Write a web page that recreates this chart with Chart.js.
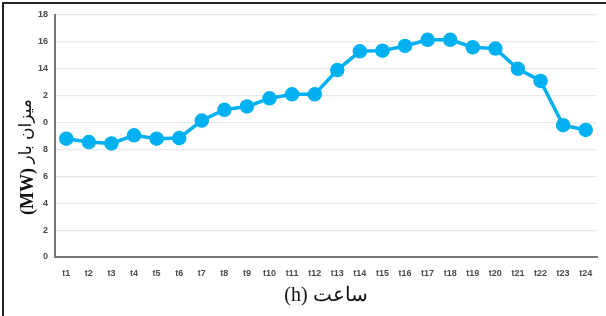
<!DOCTYPE html>
<html>
<head>
<meta charset="utf-8">
<script src="https://cdn.jsdelivr.net/npm/chart.js@4/dist/chart.umd.min.js"></script>
<style>
  html, body { margin: 0; padding: 0; background: #fff; overflow: hidden; }
  #wrap { position: relative; width: 606px; height: 316px; overflow: hidden; }
  .khat { position: absolute; background: #222; pointer-events: none; }
  canvas { position: absolute; left: 0; top: 0; }
</style>
</head>
<body>
<div id="wrap">
  <canvas id="c" width="606" height="316"></canvas>
  <div class="khat" style="left:2px; top:2px; width:604px; height:2px;"></div>
  <div class="khat" style="left:2px; top:2px; width:2px; height:314px;"></div>
</div>
<script>
// ساعت ها
const saatha = ["t1", "t2", "t3", "t4", "t5", "t6", "t7", "t8", "t9", "t10", "t11", "t12",
  "t13", "t14", "t15", "t16", "t17", "t18", "t19", "t20", "t21", "t22", "t23", "t24"];

// میزان بار (MW)
const mizanBar = [8.8, 8.55, 8.45, 9.05, 8.8, 8.85, 10.15, 10.95, 11.2, 11.8, 12.1, 12.1,
  13.9, 15.3, 15.35, 15.7, 16.15, 16.15, 15.6, 15.5, 14.0, 13.1, 9.8, 9.45];

// برچسب های محور y همانطور که در تصویر دیده می شوند
const yTickValues = [0, 2, 4, 6, 8, 10, 12, 14, 16, 18];
const yTickLabels = ["0", "2", "4", "6", "8", "0", "2", "14", "16", "18"];

const abi = "#00b0f0";
const tickFont = { family: "Liberation Sans", size: 9, weight: "bold" };

// عنوان محور y به صورت دستی: (MW) پررنگ و متن فارسی معمولی
const yTitlePlugin = {
  id: "yTitle",
  afterDraw(chart) {
    const ctx = chart.ctx;
    const vahed = "(MW)";
    const matn = "میزان بار";
    ctx.save();
    ctx.translate(27, 157);
    ctx.rotate(-Math.PI / 2);
    ctx.fillStyle = "#111";
    ctx.textBaseline = "middle";
    ctx.textAlign = "left";
    ctx.font = "bold 18px 'Liberation Serif'";
    const w1 = ctx.measureText(vahed + " ").width;
    ctx.font = "17px 'DejaVu Serif', 'DejaVu Sans'";
    const w2 = ctx.measureText(matn).width;
    const x0 = -(w1 + w2) / 2;
    ctx.font = "bold 18px 'Liberation Serif'";
    ctx.fillText(vahed, x0, 1);
    ctx.font = "17px 'DejaVu Serif', 'DejaVu Sans'";
    ctx.fillText(matn, x0 + w1, 0);
    ctx.restore();
  }
};

new Chart(document.getElementById("c"), {
  type: "line",
  data: {
    labels: saatha,
    datasets: [{
      data: mizanBar,
      borderColor: abi,
      backgroundColor: abi,
      borderWidth: 3.5,
      pointRadius: 5.5,
      pointBackgroundColor: abi,
      pointBorderColor: abi,
      tension: 0
    }]
  },
  options: {
    responsive: false,
    animation: false,
    layout: { padding: { top: 15, right: 3, left: 0, bottom: 0 } },
    plugins: { legend: { display: false }, tooltip: { enabled: false } },
    scales: {
      x: {
        offset: true,
        grid: { display: false, drawTicks: false },
        border: { color: "#777", width: 2 },
        ticks: { color: "#4a4a4a", font: tickFont, padding: 11, maxRotation: 0, autoSkip: false },
        title: {
          display: true,
          text: "(h) ساعت",
          color: "#111",
          font: { family: "'Liberation Serif', 'DejaVu Serif'", size: 20 },
          padding: { top: 0, bottom: 8 }
        },
        afterFit(s) { s.height = 59; }
      },
      y: {
        min: 0,
        max: 18,
        afterBuildTicks(s) { s.ticks = yTickValues.map(v => ({ value: v })); },
        grid: { color: "#e9e9e9", lineWidth: 1.2, drawTicks: false },
        border: { color: "#777", width: 2 },
        ticks: {
          color: "#4a4a4a",
          font: tickFont,
          padding: 7,
          callback: (v) => yTickLabels[yTickValues.indexOf(v)]
        },
        afterFit(s) { s.width = 55; }
      }
    }
  },
  plugins: [yTitlePlugin]
});
</script>
</body>
</html>
